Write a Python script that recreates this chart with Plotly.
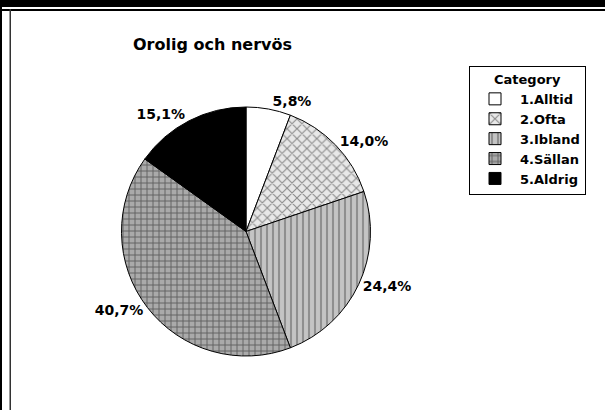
import plotly.graph_objects as go

# data
categories = ["1.Alltid", "2.Ofta", "3.Ibland", "4.Sällan", "5.Aldrig"]
shares = [5.8, 14.0, 24.4, 40.7, 15.1]

W, H = 605, 410
FONT = "DejaVu Sans"

fig = go.Figure()

fig.add_trace(go.Pie(
    labels=categories,
    values=shares,
    sort=False,
    direction="clockwise",
    rotation=0,
    textposition="outside",
    texttemplate="<b>%{percent:.1%}</b>",
    textfont=dict(family=FONT, size=14, color="black"),
    marker=dict(
        colors=["white", "#e8e8e8", "#c4c4c4", "#aaaaaa", "black"],
        line=dict(color="black", width=1),
        pattern=dict(
            shape=["", "x", "|", "+", ""],
            fillmode="overlay",
            fgcolor=["black", "#303030", "#5a5a5a", "#1a1a1a", "black"],
            size=[6, 7, 6, 6, 6],
            solidity=[0.2, 0.3, 0.35, 0.3, 0.2],
        ),
    ),
    domain=dict(x=[121.5 / W, 370.5 / W], y=[1 - 356.5 / H, 1 - 106.5 / H]),
    showlegend=True,
))

# window frame lines
shapes = [
    dict(type="rect", xref="paper", yref="paper", x0=0, x1=1, y0=1 - 7 / H, y1=1,
         fillcolor="black", line=dict(width=0)),
    dict(type="rect", xref="paper", yref="paper", x0=0, x1=1, y0=1 - 11 / H, y1=1 - 9 / H,
         fillcolor="black", line=dict(width=0)),
    dict(type="rect", xref="paper", yref="paper", x0=0, x1=2 / W, y0=0, y1=1,
         fillcolor="black", line=dict(width=0)),
    dict(type="rect", xref="paper", yref="paper", x0=9.5 / W, x1=11 / W, y0=0, y1=1 - 9 / H,
         fillcolor="#333333", line=dict(width=0)),
]

fig.update_layout(
    width=W,
    height=H,
    margin=dict(l=0, r=0, t=0, b=0),
    paper_bgcolor="white",
    plot_bgcolor="white",
    separators=", ",
    font=dict(family=FONT, color="black"),
    shapes=shapes,
    annotations=[dict(
        text="<b>Orolig och nervös</b>", xref="paper", yref="paper",
        x=212 / W, y=1 - 45 / H, xanchor="center", yanchor="middle",
        showarrow=False, font=dict(family=FONT, size=16, color="black"),
    )],
    legend=dict(
        x=469 / W, y=1 - 66 / H, xanchor="left", yanchor="top",
        bordercolor="black", borderwidth=1, bgcolor="white",
        font=dict(family=FONT, size=13, color="black", weight="bold"),
        title=dict(text="<b>Category</b>", side="top center",
                   font=dict(family=FONT, size=13, color="black")),
        itemwidth=40,
        tracegroupgap=0,
    ),
)

fig.write_html("out.html", config={"displayModeBar": False},
               post_script="document.body.style.margin='0';")
